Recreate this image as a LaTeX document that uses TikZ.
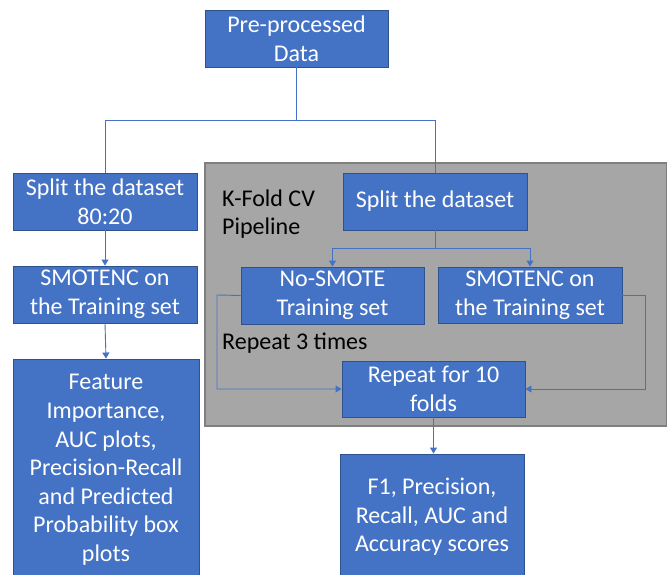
\documentclass[tikz,border=0pt]{standalone}
\usepackage{fontspec}
\setmainfont{Carlito}
\usetikzlibrary{arrows.meta}
\definecolor{boxblue}{HTML}{4472C4}
\definecolor{boxedge}{HTML}{2F528F}
\definecolor{panelgray}{HTML}{A6A6A6}
\definecolor{paneledge}{HTML}{7F7F7F}
\tikzset{
  bbox/.style={draw=boxedge, line width=0.9pt, fill=boxblue, text=white, align=center,
    font=\fontsize{24}{28.6}\selectfont, inner sep=0pt, anchor=center},
  conn/.style={draw=boxblue, line width=0.9pt},
  arr/.style={conn, -{Triangle[length=6pt,width=7pt]}},
  lbl/.style={text=black, align=left, anchor=west, font=\fontsize{24}{28.6}\selectfont, inner sep=0pt}
}
\begin{document}
\begin{tikzpicture}[x=1pt,y=-1pt]
\useasboundingbox (0,0) rectangle (667,575);
\fill[white] (0,0) rectangle (667,575);
% panel
\draw[fill=panelgray, draw=paneledge, line width=1.5pt] (205,163) rectangle (666.5,426);
\node[lbl] (kf) at (222,214) {K-Fold CV\\Pipeline};
\node[lbl] (r3) at (222,343) {Repeat 3 times};
% boxes
\node[bbox, minimum width=183pt, minimum height=57pt] (pre) at (296.5,38.5) {Pre-processed\\Data};
\node[bbox, minimum width=184pt, minimum height=57pt] (splitL) at (105,201.5) {Split the dataset\\80:20};
\node[bbox, minimum width=184pt, minimum height=57pt] (smoteL) at (105,294.5) {SMOTENC on\\the Training set};
\node[bbox, minimum width=186pt, minimum height=222pt] (feat) at (106,470) {Feature\\Importance,\\AUC plots,\\Precision-Recall\\and Predicted\\Probability box\\plots};
\node[bbox, minimum width=184pt, minimum height=57pt] (splitR) at (435,201.5) {Split the dataset};
\node[bbox, minimum width=183pt, minimum height=57pt] (nosm) at (332.5,295.5) {No-SMOTE\\Training set};
\node[bbox, minimum width=184pt, minimum height=56pt] (smoteR) at (530,295) {SMOTENC on\\the Training set};
\node[bbox, minimum width=183pt, minimum height=56pt] (rep) at (433.5,389) {Repeat for 10\\folds};
\node[bbox, minimum width=184pt, minimum height=126pt] (final) at (432,517) {F1, Precision,\\Recall, AUC and\\Accuracy scores};
% connectors
\coordinate (j1) at (296.5,120);
\draw[conn] (pre.south) -- (j1) -| (splitL.north);
\draw[conn] (j1) -| (splitR.north);
\draw[arr] (splitL.south) -- (smoteL.north);
\draw[arr] (smoteL.south) -- (feat.north);
\coordinate (j2) at (435,248);
\draw[arr] (splitR.south) -- (j2) -| (nosm.north);
\draw[arr] (j2) -| (smoteR.north);
\coordinate (lc) at (217,295);
\coordinate (rc) at (645,295);
\draw[arr] (nosm.west) -- (lc) |- (rep.west);
\draw[arr] (smoteR.east) -- (rc) |- (rep.east);
\draw[arr] (rep.south) -- (rep.south |- final.north);
\end{tikzpicture}
\end{document}
